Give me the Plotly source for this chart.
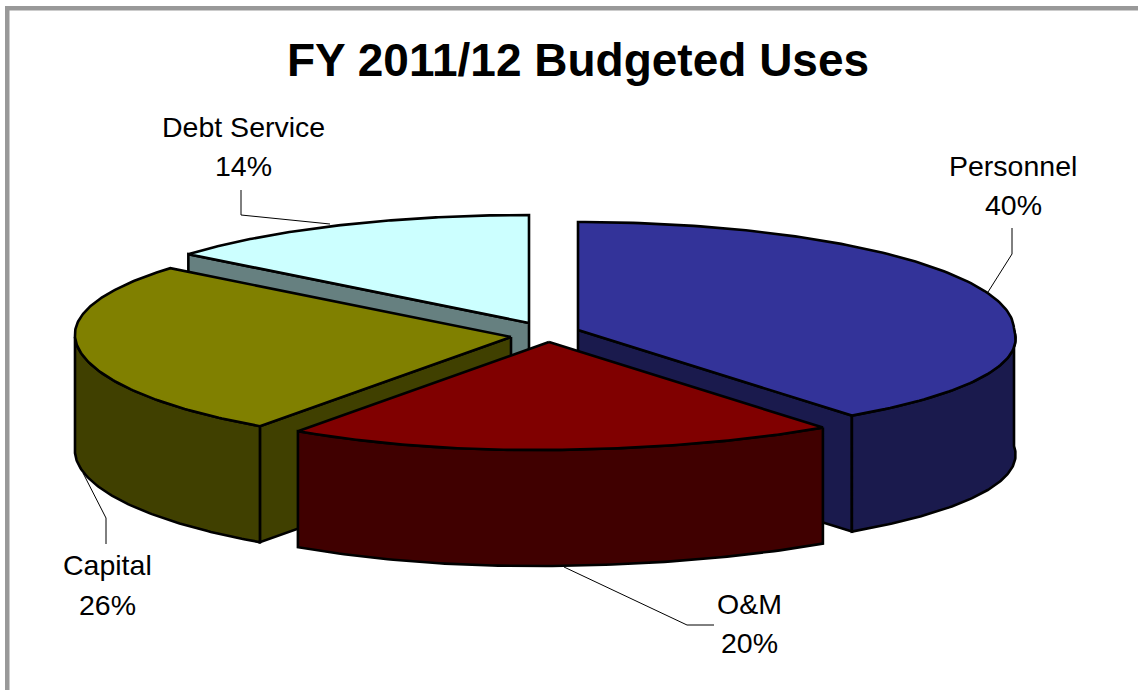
import numpy as np
import plotly.graph_objects as go

# Budget shares, in percent, clockwise from twelve o'clock
categories = ["Personnel", "O&M", "Capital", "Debt Service"]
shares = [40, 20, 26, 14]
title_text = "FY 2011/12 Budgeted Uses"

top_colors = ["#333399", "#800000", "#808000", "#CCFFFF"]
side_colors = ["#1A1A4D", "#400000", "#404000", "#668080"]

# Pie projection, in page pixels
RX, RY, DEPTH = 436, 108, 116
STRETCH_FRONT_RIGHT = 0.085
STRETCH_FRONT_LEFT = -0.025
STRETCH_BACK_LEFT = 0.022
FRONT_TILT = 3
# Exploded apex of each slice
APEX = {"Personnel": (578, 330), "O&M": (549, 342), "Capital": (511, 337), "Debt Service": (529, 323)}
# Painter's order: back slices first
DRAW_ORDER = ["Debt Service", "Personnel", "Capital", "O&M"]

LABEL_POS = {
    "Personnel": (1013, 166, 205),
    "O&M": (749, 604, 643),
    "Capital": (107, 565, 605),
    "Debt Service": (243, 127, 166),
}
LEADERS = {
    "Personnel": ([1012, 1012, 988], [228, 254, 292]),
    "O&M": ([564, 687, 714], [567, 625, 625]),
    "Capital": ([106, 106, 83], [544, 518, 473]),
    "Debt Service": ([241, 241, 330], [190, 215, 224]),
}
LABEL_FONT = dict(family="Liberation Sans, Arial, sans-serif", size=28.5, color="#000000")
BORDER = "#999999"


def rim(apex, t):
    """Point on the projected pie rim at clockwise angle t (radians)."""
    t = np.asarray(t, dtype=float)
    sin_t, cos_t = np.sin(t), np.cos(t)
    front = np.clip(-cos_t, 0, 1)
    back = np.clip(cos_t, 0, 1)
    stretch = (1
               + STRETCH_FRONT_RIGHT * front * (sin_t > 0)
               + STRETCH_FRONT_LEFT * front * (sin_t < 0)
               + STRETCH_BACK_LEFT * back * (sin_t < 0))
    return apex[0] + RX * sin_t * stretch, apex[1] - RY * cos_t - FRONT_TILT * sin_t * front / 0.8


def polygon(fig, xs, ys, fill, width=2.6):
    fig.add_trace(go.Scatter(
        x=list(xs), y=list(ys), mode="lines", fill="toself", fillcolor=fill,
        line=dict(color="#000000", width=width), hoverinfo="skip", showlegend=False,
    ))


fig = go.Figure()

edges = np.cumsum([0] + shares) / sum(shares) * 2 * np.pi
span = {name: (edges[i], edges[i + 1]) for i, name in enumerate(categories)}

for name in DRAW_ORDER:
    i = categories.index(name)
    apex = APEX[name]
    t0, t1 = span[name]

    # Radial walls that face the viewer
    visible_edges = []
    if np.sin(t0) < -1e-6:
        visible_edges.append(t0)
    if np.sin(t1) > 1e-6:
        visible_edges.append(t1)
    for t in visible_edges:
        cx, cy = rim(apex, t)
        polygon(fig,
                [apex[0], float(cx), float(cx), apex[0], apex[0]],
                [apex[1], float(cy), float(cy) + DEPTH, apex[1] + DEPTH, apex[1]],
                side_colors[i])

    # Curved outer wall, only along the front half of the rim
    lo, hi = max(t0, np.pi / 2), min(t1, 3 * np.pi / 2)
    if hi > lo:
        t = np.linspace(lo, hi, 90)
        ax, ay = rim(apex, t)
        polygon(fig,
                np.r_[ax, ax[::-1], ax[0]],
                np.r_[ay, ay[::-1] + DEPTH, ay[0]],
                side_colors[i])

    # Top face
    t = np.linspace(t0, t1, 160)
    ax, ay = rim(apex, t)
    polygon(fig, np.r_[apex[0], ax, apex[0]], np.r_[apex[1], ay, apex[1]], top_colors[i])

# Leader lines
for name in categories:
    lx, ly = LEADERS[name]
    fig.add_trace(go.Scatter(x=lx, y=ly, mode="lines", line=dict(color="#000000", width=1),
                             hoverinfo="skip", showlegend=False))

# Two-line labels, placed line by line to hold the spacing
annotations = []
for name, share in zip(categories, shares):
    lx, y1, y2 = LABEL_POS[name]
    for text, y in ((name, y1), (f"{share}%", y2)):
        annotations.append(dict(x=lx, y=y, text=text, showarrow=False, xanchor="center",
                                yanchor="middle", font=LABEL_FONT))
annotations.append(dict(x=578, y=60, text=f"<b>{title_text}</b>", showarrow=False,
                        xanchor="center", yanchor="middle",
                        font=dict(family="Liberation Sans, Arial, sans-serif", size=46, color="#000000")))

# Grey frame along the left and top of the chart area
shapes = [
    dict(type="rect", x0=5, x1=9.5, y0=6, y1=690, fillcolor=BORDER, line_width=0),
    dict(type="rect", x0=5, x1=1138, y0=6, y1=10.5, fillcolor=BORDER, line_width=0),
]

fig.update_layout(
    width=1138, height=690, margin=dict(l=0, r=0, t=0, b=0),
    paper_bgcolor="#FFFFFF", plot_bgcolor="#FFFFFF",
    xaxis=dict(range=[0, 1138], visible=False, fixedrange=True),
    yaxis=dict(range=[690, 0], visible=False, fixedrange=True),
    annotations=annotations, shapes=shapes, showlegend=False,
)

fig.write_html("out.html", config={"displayModeBar": False})
